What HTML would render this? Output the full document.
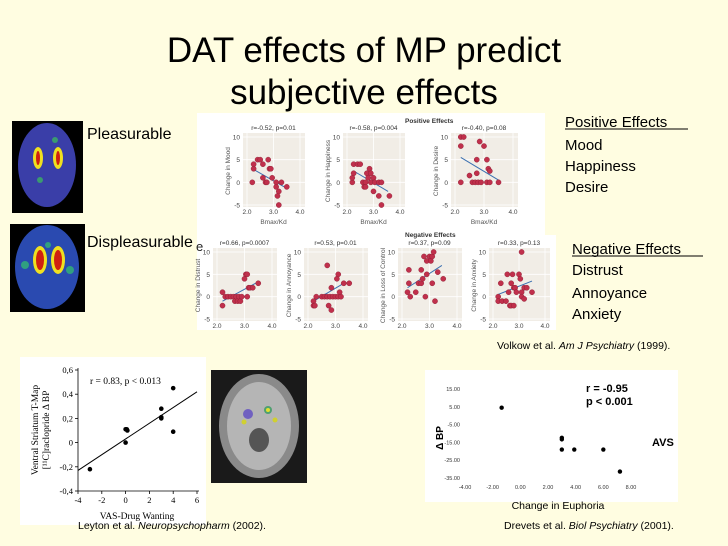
<!DOCTYPE html>
<html><head><meta charset="utf-8"><style>
body{margin:0;background:#fffde1;}
svg{display:block;font-family:"Liberation Sans",sans-serif;}
</style></head><body>
<svg id="s" width="728" height="546" viewBox="0 0 728 546" xmlns="http://www.w3.org/2000/svg">
<rect width="728" height="546" fill="#fffde1"/>
<text x="364" y="62" font-size="35" text-anchor="middle" fill="#000">DAT effects of MP predict</text>
<text x="364" y="104" font-size="35" text-anchor="middle" fill="#000">subjective effects</text>
<g>
<rect x="12" y="121" width="71" height="92" fill="#000"/>
<ellipse cx="47" cy="165" rx="29" ry="42" fill="#3a3ea8"/>
<circle cx="40" cy="180" r="3" fill="#3a9a70"/><circle cx="55" cy="140" r="3" fill="#3a9a70"/>
<ellipse cx="38" cy="158" rx="5" ry="11" fill="#f0e020"/><ellipse cx="58" cy="158" rx="5" ry="11" fill="#f0e020"/>
<ellipse cx="38" cy="158" rx="2" ry="7" fill="#d02010"/><ellipse cx="58" cy="158" rx="2" ry="7" fill="#d02010"/>
</g>
<g>
<rect x="10" y="224" width="75" height="88" fill="#000"/>
<ellipse cx="47" cy="267" rx="32" ry="42" fill="#2a4ab0"/>
<circle cx="25" cy="265" r="4" fill="#30a080"/><circle cx="70" cy="270" r="4" fill="#30a080"/><circle cx="48" cy="245" r="3" fill="#30a080"/>
<ellipse cx="40" cy="260" rx="7" ry="14" fill="#f0e020"/><ellipse cx="58" cy="260" rx="7" ry="14" fill="#f0e020"/>
<ellipse cx="40" cy="260" rx="4" ry="10" fill="#d02010"/><ellipse cx="58" cy="260" rx="4" ry="10" fill="#d02010"/>
</g>
<text x="87" y="139" font-size="16">Pleasurable</text>
<text x="87" y="247" font-size="16">Displeasurable</text>
<rect x="197" y="113" width="348" height="217" fill="#fff"/>
<rect x="540" y="235" width="16" height="95" fill="#fff"/>
<text x="405" y="123" font-size="6.5" font-weight="bold" fill="#333">Positive Effects</text>
<text x="405" y="237" font-size="6.5" font-weight="bold" fill="#333">Negative Effects</text>
<text x="196" y="251" font-size="13" fill="#222">e</text>
<g id="volkow"></g>
<g font-size="15">
<text x="565" y="127">Positive Effects</text>
<line x1="565" y1="129" x2="688" y2="129" stroke="#000" stroke-width="1"/>
<text x="565" y="150">Mood</text><text x="565" y="171">Happiness</text><text x="565" y="192">Desire</text>
<text x="572" y="254">Negative Effects</text>
<line x1="572" y1="256" x2="703" y2="256" stroke="#000" stroke-width="1"/>
<text x="572" y="275">Distrust</text><text x="572" y="298">Annoyance</text><text x="572" y="319">Anxiety</text>
</g>
<text x="497" y="349" font-size="10.5">Volkow et al. <tspan font-style="italic">Am J Psychiatry</tspan> (1999).</text>
<rect x="20" y="357" width="186" height="168" fill="#fff"/>
<g id="leyton"></g>
<g>
<rect x="211" y="370" width="96" height="113" fill="#1a1a1a"/>
<ellipse cx="259" cy="426" rx="40" ry="52" fill="#8a8a8a"/>
<ellipse cx="259" cy="426" rx="32" ry="44" fill="#b5b5b5"/>
<ellipse cx="259" cy="440" rx="10" ry="12" fill="#555"/>
<circle cx="248" cy="414" r="5" fill="#7060c0"/><circle cx="268" cy="410" r="4" fill="#50a070"/>
<circle cx="268" cy="410" r="2" fill="#e0e030"/><circle cx="244" cy="422" r="2.5" fill="#d0d030"/><circle cx="275" cy="420" r="2.5" fill="#d0d030"/>
</g>
<text x="78" y="529" font-size="10.5">Leyton et al. <tspan font-style="italic">Neuropsychopharm</tspan> (2002).</text>
<rect x="425" y="370" width="253" height="132" fill="#fff"/>
<g id="drevets"></g>
<text x="504" y="529" font-size="10.5">Drevets et al. <tspan font-style="italic">Biol Psychiatry</tspan> (2001).</text>
</svg>
<script>
const panelTitles = ["r=-0.52, p=0.01","r=-0.58, p=0.004","r=-0.40, p=0.08","r=0.66, p=0.0007","r=0.53, p=0.01","r=0.37, p=0.09","r=0.33, p=0.13"];
const panelYLabels = ["Change in Mood","Change in Happiness","Change in Desire","Change in Distrust","Change in Annoyance","Change in Loss of Control","Change in Anxiety"];
const moodX=[2.2,2.25,2.25,2.4,2.5,2.6,2.6,2.7,2.75,2.8,2.85,2.9,2.95,3.1,3.1,3.15,3.2,3.2,3.3,3.5];
const moodY=[0,4,3,5,5,4,1,0,0,5,3,3,1,0,-1,-3,-2,-5,0,-1];
const happyX=[2.2,2.2,2.25,2.25,2.4,2.5,2.6,2.65,2.7,2.7,2.75,2.8,2.85,2.9,2.9,3.0,3.0,3.05,3.2,3.2,3.3,3.3,3.6];
const happyY=[0,1,2,4,4,4,0,-1,0,-1,2,1,3,0,2,1,-2,0,0,-3,0,-5,-3];
const desireX=[2.2,2.2,2.3,2.2,2.5,2.6,2.7,2.75,2.75,2.8,2.85,2.9,3.0,3.1,3.1,3.15,3.2,3.5,3.2];
const desireY=[10,8,10,0,1.5,0,0,2,5,0,9,0,8,0,5,3,2.5,0,0];
const distrustX=[2.2,2.2,2.3,2.4,2.5,2.6,2.65,2.7,2.75,2.8,2.85,2.9,3.0,3.05,3.1,3.15,3.2,3.1,3.3,3.5];
const distrustY=[-2,1,0,0,0,0,-1,0,-1,0,-1,0,4,5,5,2,2,0,2,3];
const annoyX=[2.2,2.2,2.25,2.3,2.5,2.6,2.7,2.7,2.75,2.8,2.85,2.9,2.85,3.0,3.05,3.1,3.1,3.15,3.2,3.3,3.5];
const annoyY=[-1,-2,-2,0,0,0,7,0,-2,0,-3,0,2,0,4,5,0,1,0,3,3];
const lossX=[2.2,2.25,2.25,2.3,2.5,2.6,2.7,2.7,2.75,2.8,2.85,2.9,2.9,3.0,3.05,3.1,3.15,3.1,3.2,3.3,3.5];
const lossY=[1,3,6,0,1,3,6,3,4,9,0,8,5,9,8,9,10,3,-1,5.5,4];
const anxX=[2.2,2.2,2.3,2.35,2.5,2.55,2.6,2.65,2.7,2.7,2.75,2.8,2.8,2.85,2.9,3.0,3.05,3.1,3.1,3.1,3.2,3.3,3.5,3.2];
const anxY=[0,-1,3,-1,-1,5,1,-2,3,-2,5,2,-2,2,1,5,4,10,1,0,2,2,1,-0.5];
const fitX0=[2.2,2.25,2.2,2.2,2.2,2.2,2.2];
const fitY0=[3,2.5,5.5,-1,-1,2,0.5];
const fitX1=[3.4,3.55,3.5,3.4,3.3,3.45,3.5];
const fitY1=[-1,-2,0.5,3,3,7,3.5];
const xTicks=[2.0,3.0,4.0];
const yTicks=[10,5,0,-5];

const NS="http://www.w3.org/2000/svg";
function mk(tag,attrs,parent,txt){const e=document.createElementNS(NS,tag);for(const k in attrs)e.setAttribute(k,attrs[k]);if(txt!==undefined)e.textContent=txt;parent.appendChild(e);return e;}

const panelXs=[moodX,happyX,desireX,distrustX,annoyX,lossX,anxX];
const panelYs=[moodY,happyY,desireY,distrustY,annoyY,lossY,anxY];
const lay=[[247,53,137,205],[347,53,137,205],[455,58,137,205],[217,55,252,319],[308,55,252,319],[402,55,252,319],[493,52,252,319]];
const vg=document.getElementById('volkow');
for(let p=0;p<7;p++){
  const [x0,w,yt,yb]=lay[p];
  const sx=v=>x0+(v-2)/2*w, sy=v=>yt+(10-v)/15*(yb-yt);
  const g=mk('g',{},vg);
  
  
  const right=x0+w+5;
  mk('rect',{x:x0-4,y:yt-4,width:right-(x0-4),height:yb-yt+6,fill:'#f1ede6'},g);
  yTicks.forEach(t=>{mk('line',{x1:x0-4,x2:right,y1:sy(t),y2:sy(t),stroke:'#fff','stroke-width':0.8},g);
    mk('text',{x:x0-7,y:sy(t)+2.5,'font-size':6.5,'text-anchor':'end',fill:'#444'},g,t);});
  xTicks.forEach(t=>{if(sx(t)<=right){mk('line',{x1:sx(t),x2:sx(t),y1:yt-4,y2:yb+2,stroke:'#fff','stroke-width':0.8},g);
    mk('text',{x:sx(t),y:yb+9,'font-size':6.5,'text-anchor':'middle',fill:'#444'},g,t.toFixed(1));}});
  mk('text',{x:x0+w/2,y:yt-7,'font-size':6.5,'text-anchor':'middle',fill:'#333'},g,panelTitles[p]);
  mk('text',{x:0,y:0,'font-size':6.5,'text-anchor':'middle',fill:'#555',transform:`translate(${x0-17},${(yt+yb)/2}) rotate(-90)`},g,panelYLabels[p]);
  if(p<3) mk('text',{x:x0+w/2,y:yb+19,'font-size':6.5,'text-anchor':'middle',fill:'#555'},g,'Bmax/Kd');
  mk('line',{x1:sx(fitX0[p]),y1:sy(fitY0[p]),x2:sx(fitX1[p]),y2:sy(fitY1[p]),stroke:'#3a6fb0','stroke-width':1},g);
  panelXs[p].forEach((v,i)=>{const c=mk('circle',{cx:sx(v),cy:sy(panelYs[p][i]),r:2.6,fill:'#c0304c',stroke:'#8a1a30','stroke-width':0.4},g);
    
    });
}

const leyX=[-3,0,0.1,0.15,0,3,3,3,4,4];
const leyY=[-0.22,0.11,0.11,0.1,0,0.28,0.2,0.21,0.45,0.09];
const leyXTicks=[-4,-2,0,2,4,6];
const leyYTicks=[0.6,0.4,0.2,0,-0.2,-0.4];
const leyYTickLabels=["0,6","0,4","0,2","0","-0,2","-0,4"];
const leyFit=[[-4,-0.23],[6,0.42]];
const lg=document.getElementById('leyton');
const lx=v=>78+(v+4)/10*119, ly=v=>370+(0.6-v)/1.0*121;
const ser='"Liberation Serif",serif';
mk('line',{x1:78,y1:368,x2:78,y2:491,stroke:'#000','stroke-width':0.8},lg);
mk('line',{x1:78,y1:491,x2:199,y2:491,stroke:'#000','stroke-width':0.8},lg);
leyYTicks.forEach((t,i)=>{mk('line',{x1:75,x2:78,y1:ly(t),y2:ly(t),stroke:'#000','stroke-width':0.8},lg);
  mk('text',{x:73,y:ly(t)+3,'font-size':8.5,'text-anchor':'end','font-family':ser},lg,leyYTickLabels[i]);});
leyXTicks.forEach(t=>{mk('line',{x1:lx(t),x2:lx(t),y1:491,y2:494,stroke:'#000','stroke-width':0.8},lg);
  mk('text',{x:lx(t),y:503,'font-size':8.5,'text-anchor':'middle','font-family':ser},lg,t);});
mk('line',{x1:lx(leyFit[0][0]),y1:ly(leyFit[0][1]),x2:lx(leyFit[1][0]),y2:ly(leyFit[1][1]),stroke:'#000','stroke-width':1},lg);
leyX.forEach((v,i)=>{const c=mk('circle',{cx:lx(v),cy:ly(leyY[i]),r:2.3,fill:'#000'},lg);
  
  });
mk('text',{x:90,y:384,'font-size':9.5,'font-family':ser},lg,'r = 0.83, p < 0.013');
mk('text',{x:137,y:519,'font-size':9.5,'text-anchor':'middle','font-family':ser},lg,'VAS-Drug Wanting');
mk('text',{x:0,y:0,'font-size':9.5,'text-anchor':'middle','font-family':ser,transform:'translate(38,430) rotate(-90)'},lg,'Ventral Striatum T-Map');
mk('text',{x:0,y:0,'font-size':9.5,'text-anchor':'middle','font-family':ser,transform:'translate(49,430) rotate(-90)'},lg,'[¹¹C]raclopride Δ BP');

const drvX=[-1.35,3.0,3.0,3.0,3.9,6.0,7.2];
const drvY=[4.5,-12.4,-13.3,-19,-19,-19,-31.4];
const drvXTicks=[-4,-2,0,2,4,6,8];
const drvYTicks=[15,5,-5,-15,-25,-35];
const dg=document.getElementById('drevets');
const dx=v=>465+(v+4)/12*166, dy=v=>389+(15-v)/50*89;
drvYTicks.forEach(t=>mk('text',{x:460,y:dy(t)+2,'font-size':5.5,'text-anchor':'end',fill:'#333'},dg,t.toFixed(2)));
drvXTicks.forEach(t=>mk('text',{x:dx(t),y:489,'font-size':5.5,'text-anchor':'middle',fill:'#333'},dg,t.toFixed(2)));
drvX.forEach((v,i)=>{const c=mk('circle',{cx:dx(v),cy:dy(drvY[i]),r:2.2,fill:'#000'},dg);
  
  });
mk('text',{x:586,y:392,'font-size':11,'font-weight':'bold'},dg,'r  =  -0.95');
mk('text',{x:586,y:405,'font-size':11,'font-weight':'bold'},dg,'p  <  0.001');
mk('text',{x:652,y:446,'font-size':11,'font-weight':'bold'},dg,'AVS');
mk('text',{x:0,y:0,'font-size':10,'font-weight':'bold','text-anchor':'middle',transform:'translate(443,438) rotate(-90)'},dg,'Δ BP');
mk('text',{x:558,y:509,'font-size':10.5,'text-anchor':'middle'},dg,'Change in Euphoria');
</script>
</body></html>
